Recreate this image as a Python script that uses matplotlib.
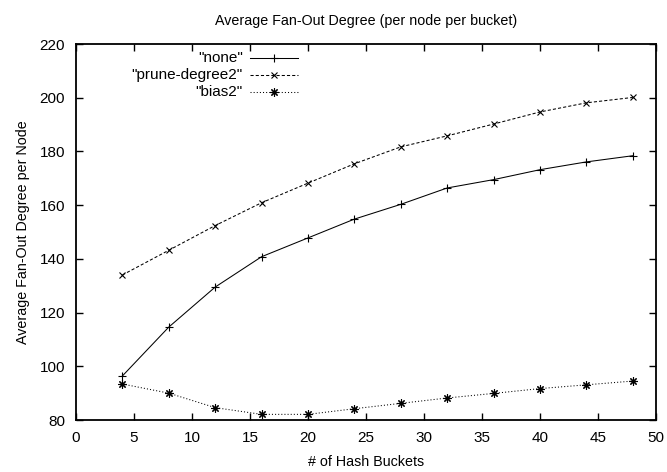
import matplotlib
matplotlib.use('Agg')
import matplotlib.pyplot as plt

plt.rcParams['font.family'] = ['Liberation Sans', 'DejaVu Sans']

######## DATA ########
buckets = [4, 8, 12, 16, 20, 24, 28, 32, 36, 40, 44, 48]
none_vals = [96.4, 114.6, 129.5, 140.8, 147.8, 154.8, 160.3, 166.4, 169.5, 173.2, 176.1, 178.4]
prune_vals = [134.0, 143.2, 152.4, 160.9, 168.2, 175.4, 181.7, 185.8, 190.2, 194.7, 198.1, 200.1]
bias_vals = [93.4, 90.0, 84.6, 82.1, 82.1, 84.2, 86.2, 88.2, 89.9, 91.7, 93.1, 94.5]
series_names = ['"none"', '"prune-degree2"', '"bias2"']

W, H = 667, 472
fig = plt.figure(figsize=(W / 100.0, H / 100.0), dpi=100)
ax = fig.add_axes([76.0 / W, 1 - 420.0 / H, 580.0 / W, 376.0 / H])

asterisk = (8, 2, 0)
styles = [
    dict(ls='-', marker='+', ms=6),
    dict(ls=(0, (3, 2)), marker='x', ms=4.5),
    dict(ls=(0, (1, 2)), marker=asterisk, ms=6),
]
for vals, st in zip([none_vals, prune_vals, bias_vals], styles):
    ax.plot(buckets, vals, color='black', lw=0.75, mew=0.8,
            ls=st['ls'], marker=st['marker'], ms=st['ms'])

ax.set_xlim(0, 50)
ax.set_ylim(80, 220)
ax.set_xticks(range(0, 51, 5))
ax.set_yticks(range(80, 221, 20))
ax.tick_params(direction='in', top=True, right=True, length=5, width=1,
               labelsize=11, pad=8)
for sp in ax.spines.values():
    sp.set_linewidth(1.3)

ax.set_title('Average Fan-Out Degree (per node per bucket)', fontsize=10.3, pad=14)
ax.set_xlabel('# of Hash Buckets', fontsize=10.3, labelpad=7)
ax.set_ylabel('Average Fan-Out Degree per Node', fontsize=10.3, labelpad=7)

# gnuplot style key: right aligned text, sample line to the right
key_y = [58, 75, 92]
tx = (243 - 76.0) / 580.0
x0 = (250 - 76.0) / 580.0
x1 = (298 - 76.0) / 580.0
for name, st, py in zip(series_names, styles, key_y):
    fy = (420.0 - py) / 376.0
    ax.text(tx, fy, name, transform=ax.transAxes, ha='right', va='center',
            fontsize=11)
    ax.plot([x0, x1], [fy, fy], transform=ax.transAxes, color='black',
            lw=0.75, ls=st['ls'], clip_on=False)
    ax.plot([(x0 + x1) / 2], [fy], transform=ax.transAxes, color='black',
            marker=st['marker'], ms=st['ms'], mew=0.8, clip_on=False)

fig.savefig('out.png', dpi=100)
